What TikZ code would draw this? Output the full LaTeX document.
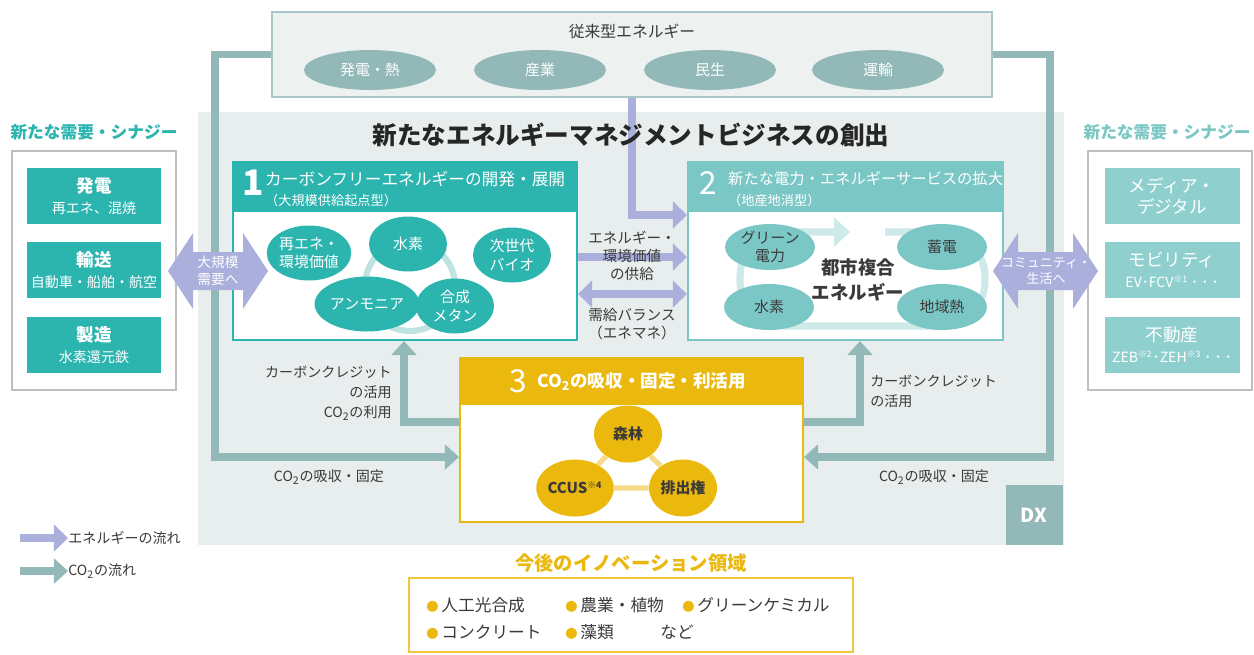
\documentclass[tikz,border=0pt]{standalone}
\usepackage{fontspec}
\setmainfont{Noto Sans CJK JP}
\usetikzlibrary{arrows.meta,shapes.geometric,fit}

\definecolor{tealA}{HTML}{2CB4AF}
\definecolor{tealB}{HTML}{7BC7C6}
\definecolor{tealC}{HTML}{8FD0CF}
\definecolor{ringA}{HTML}{BFE3E1}
\definecolor{ringB}{HTML}{CDEAE9}
\definecolor{cotwo}{HTML}{93B8B8}
\definecolor{enrg}{HTML}{AAAFDC}
\definecolor{goldA}{HTML}{EBB80E}
\definecolor{ringG}{HTML}{F6DB8A}
\definecolor{bgA}{HTML}{E8EDED}
\definecolor{topA}{HTML}{EDF1F0}
\definecolor{ink}{HTML}{3A3A3A}

\newcommand{\fsz}[2]{\fontsize{#1}{#2}\selectfont}
\newcommand{\note}[1]{\textsuperscript{\fsz{5}{5}※#1}}
\newcommand{\golddot}{\textcolor{goldA}{\fsz{7}{7}●}\,}

\tikzset{
  blobA/.style={ellipse, fill=tealA, text=white, minimum width=1.56cm, minimum height=1.1cm, inner sep=0pt, align=center, font=\fsz{8.5}{10.5}},
  blobB/.style={ellipse, fill=tealB, text=ink, minimum width=1.8cm, minimum height=0.92cm, inner sep=0pt, align=center, font=\fsz{8.5}{10.5}},
  blobG/.style={ellipse, fill=goldA, text=ink, minimum width=1.36cm, minimum height=1.14cm, inner sep=0pt, font=\bfseries\fsz{8.5}{10}},
  trad/.style={ellipse, fill=cotwo, text=white, minimum width=2.64cm, minimum height=0.8cm, inner sep=0pt, font=\fsz{8.5}{10}},
  need/.style={fill=#1, text=white, minimum width=2.7cm, minimum height=1.12cm, align=center, inner sep=0pt},
  frame/.style={inner sep=0pt, line width=#1},
  coarrow/.style={draw=cotwo, line width=4.5pt, -{Triangle[length=8pt,width=14pt]}},
  enarrow/.style={draw=enrg, line width=5pt, -{Triangle[length=8pt,width=15pt]}},
  fattext/.style={text=white, align=center, font=\fsz{7.8}{9.5}},
  lbl/.style={text=ink, inner sep=0pt, font=\fsz{8}{11.3}},
}

\begin{document}
\begin{tikzpicture}[x=0.02cm, y=-0.02cm]
\useasboundingbox (0,0) rectangle (1254,654);
\fill[white] (0,0) rectangle (1254,654);

% grey field behind the business area
\fill[bgA] (198,112) rectangle (1064,545);
\node[fill=cotwo, text=white, minimum width=1.14cm, minimum height=1.2cm, font=\bfseries\fsz{11}{12}] (dx) at (1034,515) {DX};

% conventional energy
\node[fit={(272,12) (992,97)}, frame=0.8pt, draw=cotwo!80, fill=topA] (trad) {};
\node[text=ink, font=\fsz{9}{10}] (tradtitle) at (632,31) {従来型エネルギー};
\foreach \n/\x/\t in {tradpow/370/発電・熱, tradind/540/産業, tradhome/710/民生, tradmove/878/運輸}
  \node[trad] (\n) at (\x,70) {\t};

% CO2 loops round the field
\coordinate (lcorner) at (215,457);
\coordinate (rcorner) at (1050,457);
\coordinate (lup) at (404,422);
\coordinate (rup) at (860,422);
\coordinate (ecorner) at (632,215);
\coordinate (supply) at (632,257);
\coordinate (balance) at (632,294);

% 1 carbon free energy
\node[fit={(233,162) (577,340)}, frame=1.2pt, draw=tealA, fill=white] (boxone) {};
\node[fit={(233,162) (577,212)}, frame=0pt, fill=tealA] (headone) {};
\node[anchor=west, text=white, font=\bfseries\fsz{20}{20}] (numone) at (236,183) {1};
\node[anchor=west, text=white, font=\fsz{9.5}{10}] (titleone) at (259,179) {カーボンフリーエネルギーの開発・展開};
\node[anchor=west, text=white, font=\fsz{7.5}{8}] (subone) at (259,200) {（大規模供給起点型）};
\draw[ringA, line width=3.5pt] (410,286) circle (0.9cm);
\node[blobA] (renew) at (309,253) {再エネ・\\環境価値};
\node[blobA] (hydroone) at (408,244) {水素};
\node[blobA] (bio) at (512,255) {次世代\\バイオ};
\node[blobA] (ammonia) at (367,304) {アンモニア};
\node[blobA] (methane) at (455,306) {合成\\メタン};

% 2 new power services
\node[fit={(688,162) (1003,340)}, frame=1.2pt, draw=tealB, fill=white] (boxtwo) {};
\node[fit={(688,162) (1003,212)}, frame=0pt, fill=tealB] (headtwo) {};
\node[anchor=west, text=white, font=\fsz{18}{18}] (numtwo) at (693,183) {2};
\node[anchor=west, text=white, font=\fsz{8.7}{10}] (titletwo) at (722,179) {新たな電力・エネルギーサービスの拡大};
\node[anchor=west, text=white, font=\fsz{7.5}{8}] (subtwo) at (722,200) {（地産地消型）};
\draw[ringB, line width=4pt, rounded corners=0.9cm, -{Triangle[length=9pt,width=16pt]}]
  (885,232) -- (985,232) -- (985,326) -- (740,326) -- (740,232) -- (850,232);
\node[blobB] (green) at (770,247) {グリーン\\電力};
\node[blobB] (store) at (942,247) {蓄電};
\node[blobB] (hydrotwo) at (769,307) {水素};
\node[blobB] (heat) at (942,307) {地域熱};
\node[text=ink, align=center, font=\bfseries\fsz{10.5}{14.5}] (city) at (858,280) {都市複合\\エネルギー};

% 3 CO2 capture and use
\node[fit={(460,358) (803,522)}, frame=1.2pt, draw=goldA, fill=white] (boxthree) {};
\node[fit={(460,358) (803,405)}, frame=0pt, fill=goldA] (headthree) {};
\node[anchor=west, text=white, font=\fsz{18}{18}] (numthree) at (503,381) {3};
\node[anchor=west, text=white, font=\bfseries\fsz{10}{11}] (titlethree) at (531,381) {CO\textsubscript{2}の吸収・固定・利活用};
\node[blobG] (forest) at (628,434) {森林};
\node[blobG] (ccus) at (575,488) {CCUS\note{4}};
\node[blobG] (emis) at (683,488) {排出権};
\draw[ringG, line width=3pt] (forest) -- (ccus) -- (emis) -- (forest);

% flows
\draw[coarrow] (trad.west) -| (lcorner) -- (boxthree.west |- lcorner);
\draw[coarrow] (trad.east) -| (rcorner) -- (boxthree.east |- rcorner);
\draw[coarrow] (boxthree.west |- lup) -| (boxone.south -| lup);
\draw[coarrow] (boxthree.east |- rup) -| (boxtwo.south -| rup);
\draw[enarrow] (trad.south) |- (boxtwo.west |- ecorner);
\draw[enarrow] (boxone.east |- supply) -- (boxtwo.west |- supply);
\draw[enarrow, {Triangle[length=8pt,width=15pt]}-{Triangle[length=8pt,width=15pt]}] (boxone.east |- balance) -- (boxtwo.west |- balance);

\node[text=black!85, font=\bfseries\fsz{14}{16}] (maintitle) at (631,135) {新たなエネルギーマネジメントビジネスの創出};
\node[lbl, align=center, font=\fsz{8.3}{10.2}] (supplylbl) at (632,256) {エネルギー・\\環境価値\\の供給};
\node[lbl, align=center, font=\fsz{8.3}{9.8}] (balancelbl) at (632,324) {需給バランス\\（エネマネ）};
\node[lbl, anchor=east, align=right] (creditl) at (392,382) {カーボンクレジット\\の活用};
\node[lbl, anchor=east] (usel) at (392,413) {CO\textsubscript{2}の利用};
\node[lbl, anchor=west, align=left] (creditr) at (870,391) {カーボンクレジット\\の活用};
\node[lbl] (fixl) at (329,477) {CO\textsubscript{2}の吸収・固定};
\node[lbl] (fixr) at (934,477) {CO\textsubscript{2}の吸収・固定};

% new demand, left
\node[text=tealA, font=\bfseries\fsz{9.5}{11}] (lefttitle) at (94,132) {新たな需要・シナジー};
\node[fit={(12,151) (176,390)}, frame=0.6pt, draw=black!25, fill=white] (leftpanel) {};
\node[need=tealA] (needpow) at (94,196) {{\bfseries\fsz{10}{12}発電}\\{\fsz{8}{10}再エネ、混焼}};
\node[need=tealA] (needmove) at (94,270) {{\bfseries\fsz{10}{12}輸送}\\{\fsz{8}{10}自動車・船舶・航空}};
\node[need=tealA] (needmake) at (94,345) {{\bfseries\fsz{10}{12}製造}\\{\fsz{8}{10}水素還元鉄}};
\fill[enrg] (168,271) -- (193,233) -- (193,252) -- (243,252) -- (243,233) -- (268,271)
  -- (243,309) -- (243,290) -- (193,290) -- (193,309) -- cycle;
\node[fattext] (bigtext) at (218,271) {大規模\\需要へ};

% new demand, right
\node[text=tealB, font=\bfseries\fsz{9.5}{11}] (righttitle) at (1167,132) {新たな需要・シナジー};
\node[fit={(1088,151) (1252,390)}, frame=0.6pt, draw=black!25, fill=white] (rightpanel) {};
\node[need=tealC] (needmedia) at (1172,196) {{\fsz{10}{13}メディア・}\\{\fsz{10}{12}デジタル}};
\node[need=tealC] (needmob) at (1172,270) {{\fsz{10}{12}モビリティ}\\{\fsz{8}{10}EV･FCV\note{1} ･ ･ ･}};
\node[need=tealC] (needestate) at (1172,345) {{\fsz{10}{12}不動産}\\{\fsz{8}{10}ZEB\note{2}･ZEH\note{3} ･ ･ ･}};
\fill[enrg] (993,271) -- (1018,233) -- (1018,252) -- (1073,252) -- (1073,233) -- (1098,271)
  -- (1073,309) -- (1073,290) -- (1018,290) -- (1018,309) -- cycle;
\node[fattext, font=\fsz{7.4}{9.5}] (comtext) at (1046,271) {コミュニティ・\\生活へ};

% legend
\node[lbl, anchor=west] (legen) at (68,538) {エネルギーの流れ};
\node[lbl, anchor=west] (legco) at (68,571) {CO\textsubscript{2}の流れ};
\coordinate (legena) at (20,538);
\coordinate (legcoa) at (20,571);
\draw[enarrow] (legena) -- (legen.west);
\draw[coarrow] (legcoa) -- (legco.west);

% future innovation
\node[text=goldA, font=\bfseries\fsz{11}{12}] (innovtitle) at (631,563) {今後のイノベーション領域};
\node[fit={(409,578) (853,652)}, frame=1pt, draw=goldA!80] (innov) {};
\tikzset{item/.style={anchor=west, text=ink, inner sep=0pt, font=\fsz{9.5}{10}}}
\node[item] (itema) at (426,605) {\golddot 人工光合成};
\node[item] (itemb) at (565,605) {\golddot 農業・植物};
\node[item] (itemc) at (682,605) {\golddot グリーンケミカル};
\node[item] (itemd) at (426,632) {\golddot コンクリート};
\node[item] (iteme) at (565,632) {\golddot 藻類};
\node[item] (itemf) at (660,632) {など};
\end{tikzpicture}
\end{document}
